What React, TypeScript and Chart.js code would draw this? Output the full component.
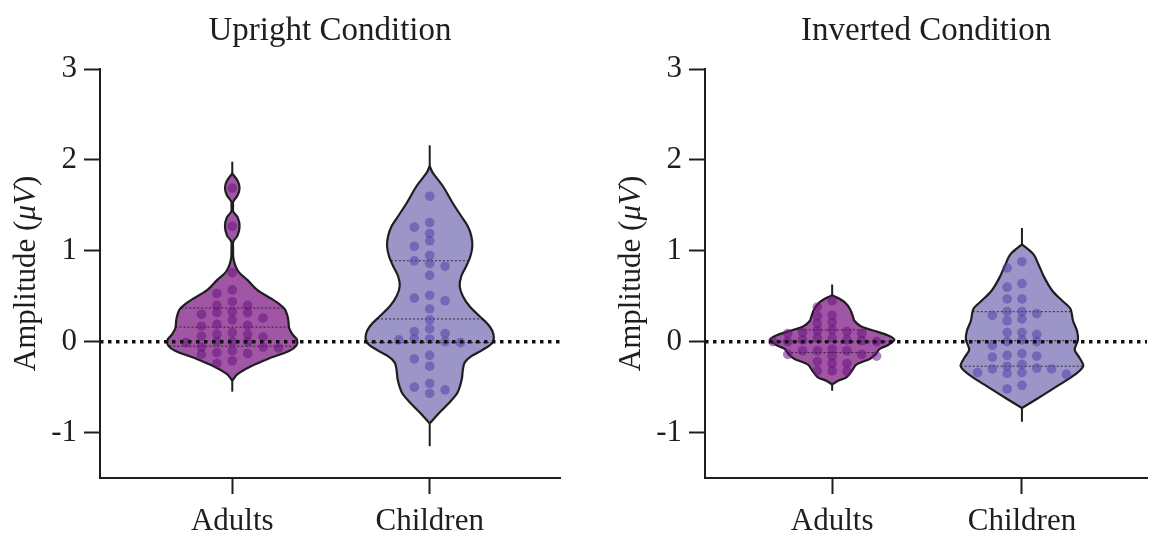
import React, { useEffect, useRef } from "react";
import { Chart, registerables } from "chart.js";

Chart.register(...registerables);

// ---------- data ----------
const CATEGORIES = ["Adults", "Children"];
const X_TICKS = [1, 2];
const Y_TICKS = [-1, 0, 1, 2, 3];
const PANEL_TITLES = ["Upright Condition", "Inverted Condition"];
const Y_TITLE_PARTS = ["Amplitude (", "μV", ")"];

// Upright condition – individual amplitudes (µV)
const UP_ADULT_VALUES = [1.69, 1.27, 0.76, 0.57, 0.53, 0.44, 0.4, 0.4, 0.33, 0.32, 0.32, 0.3, 0.26, 0.24, 0.19, 0.18, 0.17, 0.1, 0.08, 0.08, 0.06, 0.05, 0.0, 0.0, 0.0, -0.01, -0.06, -0.06, -0.07, -0.1, -0.12, -0.13, -0.14, -0.21, -0.24];
const UP_CHILD_VALUES = [1.6, 1.31, 1.26, 1.19, 1.11, 1.05, 0.95, 0.89, 0.86, 0.83, 0.73, 0.51, 0.48, 0.45, 0.36, 0.24, 0.14, 0.11, 0.09, 0.03, 0.03, 0.02, 0.0, -0.01, -0.15, -0.19, -0.27, -0.46, -0.5, -0.53, -0.57];
// Inverted condition – individual amplitudes (µV)
const INV_ADULT_VALUES = [0.45, 0.38, 0.29, 0.28, 0.21, 0.2, 0.13, 0.12, 0.11, 0.1, 0.09, 0.09, 0.04, 0.04, 0.02, 0.02, 0.01, 0.0, 0.0, 0.0, -0.08, -0.1, -0.1, -0.1, -0.14, -0.14, -0.16, -0.16, -0.22, -0.24, -0.24, -0.32, -0.32, -0.33];
const INV_CHILD_VALUES = [0.88, 0.81, 0.64, 0.6, 0.47, 0.47, 0.33, 0.33, 0.31, 0.29, 0.25, 0.23, 0.1, 0.1, 0.08, 0.02, 0.0, 0.0, -0.04, -0.13, -0.15, -0.16, -0.17, -0.25, -0.27, -0.29, -0.3, -0.3, -0.34, -0.34, -0.35, -0.36, -0.48, -0.52];

// Violin density outlines: amplitude levels and half widths (x-axis units)
// first / last level = whisker ends, second / second-to-last = tips of the density
const UP_ADULT_LEVELS = [-0.55, -0.43, -0.36, -0.27, -0.19, -0.1, -0.04, 0.02, 0.08, 0.15, 0.25, 0.35, 0.41, 0.47, 0.57, 0.68, 0.76, 0.84, 0.93, 1.03, 1.1, 1.17, 1.27, 1.37, 1.43, 1.49, 1.54, 1.61, 1.69, 1.77, 1.85, 1.98];
const UP_ADULT_HALF = [0, 0, 0.025, 0.095, 0.18, 0.29, 0.325, 0.328, 0.305, 0.288, 0.283, 0.268, 0.24, 0.2, 0.126, 0.076, 0.035, 0.015, 0.005, 0.004, 0.005, 0.027, 0.037, 0.027, 0.005, 0.004, 0.005, 0.027, 0.037, 0.027, 0, 0];
const UP_CHILD_LEVELS = [-1.15, -0.9, -0.78, -0.67, -0.56, -0.42, -0.31, -0.23, -0.16, -0.09, -0.01, 0.08, 0.17, 0.28, 0.39, 0.5, 0.61, 0.72, 0.83, 0.94, 1.05, 1.16, 1.27, 1.38, 1.52, 1.71, 1.86, 1.93, 2.16];
const UP_CHILD_HALF = [0, 0, 0.05, 0.1, 0.141, 0.162, 0.168, 0.177, 0.211, 0.268, 0.318, 0.323, 0.303, 0.253, 0.202, 0.168, 0.152, 0.16, 0.185, 0.206, 0.216, 0.211, 0.193, 0.16, 0.118, 0.067, 0.015, 0, 0];
const INV_ADULT_LEVELS = [-0.54, -0.47, -0.43, -0.39, -0.32, -0.25, -0.19, -0.14, -0.08, -0.04, 0.02, 0.07, 0.12, 0.17, 0.23, 0.28, 0.36, 0.43, 0.48, 0.51, 0.63];
const INV_ADULT_HALF = [0, 0, 0.031, 0.077, 0.104, 0.129, 0.198, 0.229, 0.25, 0.292, 0.328, 0.292, 0.221, 0.151, 0.117, 0.109, 0.094, 0.068, 0.031, 0, 0];
const INV_CHILD_LEVELS = [-0.88, -0.73, -0.68, -0.58, -0.47, -0.36, -0.27, -0.18, -0.09, 0.02, 0.12, 0.23, 0.36, 0.45, 0.56, 0.71, 0.85, 0.96, 1.07, 1.25];
const INV_CHILD_HALF = [0, 0, 0.039, 0.117, 0.2, 0.281, 0.323, 0.304, 0.278, 0.295, 0.29, 0.269, 0.256, 0.2125, 0.16, 0.117, 0.087, 0.061, 0, 0];

// Quartile / median lines
const UP_ADULT_QUARTILES = [-0.05, 0.16, 0.37];
const UP_CHILD_QUARTILES = [-0.01, 0.25, 0.89];
const INV_ADULT_QUARTILES = [-0.12, 0.0, 0.13];
const INV_CHILD_QUARTILES = [-0.27, 0.01, 0.33];

// ---------- style ----------
const X_MIN = 0.33;
const X_MAX = 2.66;
const Y_MIN = -1.5;
const Y_MAX = 3;
const FONT_FAMILY = '"Liberation Serif", "Times New Roman", Times, serif';
const INK = "#1e1e1e";
const ADULT_FILL = "rgb(160, 86, 164)";
const CHILD_FILL = "rgb(155, 149, 200)";
const ADULT_DOT = "rgba(105, 20, 125, 0.55)";
const CHILD_DOT = "rgba(85, 65, 170, 0.55)";
const DOT_COLUMN_STEP = 0.078;
const DOT_MIN_GAP = 0.075;

type Violin = {
  center: number;
  levels: number[];
  half: number[];
  quartiles: number[];
  values: number[];
  fill: string;
  dot: string;
};

function outline(v: Violin) {
  const n = v.levels.length;
  const idx = v.levels.map((_, i) => i).slice(1, n - 1);
  const right = idx.map((i) => ({ x: v.center + v.half[i], y: v.levels[i] }));
  const left = idx.map((i) => ({ x: v.center - v.half[i], y: v.levels[i] })).reverse();
  return [...right, ...left];
}

function whiskers(v: Violin) {
  const n = v.levels.length;
  return [
    [
      { x: v.center, y: v.levels[0] },
      { x: v.center, y: v.levels[1] },
    ],
    [
      { x: v.center, y: v.levels[n - 2] },
      { x: v.center, y: v.levels[n - 1] },
    ],
  ];
}

function halfAt(v: Violin, y: number) {
  const L = v.levels;
  for (let i = 0; i < L.length - 1; i++) {
    if (y >= L[i] && y <= L[i + 1]) {
      const t = (y - L[i]) / (L[i + 1] - L[i]);
      return v.half[i] + t * (v.half[i + 1] - v.half[i]);
    }
  }
  return 0;
}

function swarm(values: number[], center: number) {
  const sorted = [...values].sort((a, b) => b - a);
  const placed: { col: number; y: number }[] = [];
  for (const val of sorted) {
    for (let k = 0; k < 30; k++) {
      const col = k === 0 ? 0 : k % 2 === 1 ? -Math.ceil(k / 2) : Math.ceil(k / 2);
      if (!placed.some((p) => p.col === col && Math.abs(p.y - val) < DOT_MIN_GAP)) {
        placed.push({ col, y: val });
        break;
      }
    }
  }
  return placed.map((p) => ({ x: center + p.col * DOT_COLUMN_STEP, y: p.y }));
}

const textPlugin = {
  id: "panelText",
  afterDraw(chart: any, _args: any, opts: any) {
    const { ctx, chartArea } = chart;
    ctx.save();
    ctx.fillStyle = INK;
    ctx.font = `33px ${FONT_FAMILY}`;
    ctx.textAlign = "center";
    ctx.textBaseline = "alphabetic";
    ctx.fillText(opts.title, (chartArea.left + chartArea.right) / 2, 40);

    const fonts = [`31px ${FONT_FAMILY}`, `italic 31px ${FONT_FAMILY}`, `31px ${FONT_FAMILY}`];
    const widths = Y_TITLE_PARTS.map((t, i) => {
      ctx.font = fonts[i];
      return ctx.measureText(t).width;
    });
    const total = widths.reduce((a, b) => a + b, 0);
    ctx.translate(chartArea.left - 73, (chartArea.top + chartArea.bottom) / 2);
    ctx.rotate(-Math.PI / 2);
    ctx.textAlign = "left";
    ctx.textBaseline = "middle";
    let x = -total / 2;
    Y_TITLE_PARTS.forEach((t, i) => {
      ctx.font = fonts[i];
      ctx.fillText(t, x, 0);
      x += widths[i];
    });
    ctx.restore();
  },
};

function makeConfig(title: string, violins: Violin[], yAxisWidth: number, padRight: number): any {
  const datasets: any[] = [];
  violins.forEach((v) => {
    whiskers(v).forEach((seg) => {
      datasets.push({
        type: "line",
        data: seg,
        borderColor: INK,
        borderWidth: 2,
        tension: 0,
        pointRadius: 0,
        fill: false,
        order: 4,
      });
    });
    datasets.push({
      type: "line",
      data: outline(v),
      borderColor: INK,
      borderWidth: 2.2,
      backgroundColor: v.fill,
      fill: "shape",
      tension: 0.3,
      pointRadius: 0,
      order: 3,
    });
    v.quartiles.forEach((q) => {
      const w = halfAt(v, q);
      datasets.push({
        type: "line",
        data: [
          { x: v.center - w, y: q },
          { x: v.center + w, y: q },
        ],
        borderColor: "rgba(25,25,25,0.85)",
        borderWidth: 1,
        borderDash: [2, 2],
        pointRadius: 0,
        fill: false,
        order: 2,
      });
    });
    datasets.push({
      type: "scatter",
      data: swarm(v.values, v.center),
      pointBackgroundColor: v.dot,
      pointBorderWidth: 0,
      pointRadius: 4.8,
      order: 1,
    });
  });
  datasets.push({
    type: "line",
    data: [
      { x: X_MIN, y: 0 },
      { x: X_MAX, y: 0 },
    ],
    borderColor: "#111",
    borderWidth: 3.5,
    borderDash: [3.5, 4.5],
    pointRadius: 0,
    fill: false,
    order: 0,
  });

  const tickFont = { family: FONT_FAMILY, size: 31 };
  return {
    type: "scatter",
    data: { datasets },
    plugins: [textPlugin],
    options: {
      animation: false,
      responsive: false,
      devicePixelRatio: 1,
      events: [],
      layout: { padding: { top: 69, right: padRight, bottom: 0, left: 0 } },
      plugins: {
        legend: { display: false },
        tooltip: { enabled: false },
        panelText: { title },
      },
      scales: {
        x: {
          type: "linear",
          min: X_MIN,
          max: X_MAX,
          afterBuildTicks: (s: any) => {
            s.ticks = X_TICKS.map((value) => ({ value }));
          },
          afterFit: (s: any) => {
            s.height = 58;
          },
          ticks: {
            callback: (value: number) => CATEGORIES[X_TICKS.indexOf(value)] ?? "",
            font: tickFont,
            color: INK,
            padding: 9,
            autoSkip: false,
            maxRotation: 0,
            minRotation: 0,
          },
          grid: {
            display: true,
            drawOnChartArea: false,
            drawTicks: true,
            tickLength: 16,
            tickWidth: 2,
            tickColor: INK,
          },
          border: { display: true, width: 2, color: INK },
        },
        y: {
          type: "linear",
          min: Y_MIN,
          max: Y_MAX,
          afterBuildTicks: (s: any) => {
            s.ticks = Y_TICKS.map((value) => ({ value }));
          },
          afterFit: (s: any) => {
            s.width = yAxisWidth;
          },
          ticks: {
            callback: (value: number) => String(value),
            font: tickFont,
            color: INK,
            padding: 7,
          },
          grid: {
            display: true,
            drawOnChartArea: false,
            drawTicks: true,
            tickLength: 16,
            tickWidth: 2,
            tickColor: INK,
          },
          border: { display: true, width: 2, color: INK },
        },
      },
    },
  };
}

const UPRIGHT: Violin[] = [
  { center: X_TICKS[0], levels: UP_ADULT_LEVELS, half: UP_ADULT_HALF, quartiles: UP_ADULT_QUARTILES, values: UP_ADULT_VALUES, fill: ADULT_FILL, dot: ADULT_DOT },
  { center: X_TICKS[1], levels: UP_CHILD_LEVELS, half: UP_CHILD_HALF, quartiles: UP_CHILD_QUARTILES, values: UP_CHILD_VALUES, fill: CHILD_FILL, dot: CHILD_DOT },
];
const INVERTED: Violin[] = [
  { center: X_TICKS[0], levels: INV_ADULT_LEVELS, half: INV_ADULT_HALF, quartiles: INV_ADULT_QUARTILES, values: INV_ADULT_VALUES, fill: ADULT_FILL, dot: ADULT_DOT },
  { center: X_TICKS[1], levels: INV_CHILD_LEVELS, half: INV_CHILD_HALF, quartiles: INV_CHILD_QUARTILES, values: INV_CHILD_VALUES, fill: CHILD_FILL, dot: CHILD_DOT },
];

function Panel({ title, violins, yAxisWidth, padRight }: { title: string; violins: Violin[]; yAxisWidth: number; padRight: number }) {
  const ref = useRef<HTMLCanvasElement>(null);
  useEffect(() => {
    if (!ref.current) return;
    const chart = new Chart(ref.current, makeConfig(title, violins, yAxisWidth, padRight));
    return () => chart.destroy();
  }, []);
  return <canvas ref={ref} width={576} height={536} style={{ display: "block", width: 576, height: 536 }} />;
}

export default function App() {
  return (
    <div style={{ position: "absolute", left: 0, top: 0, width: 1152, height: 536, display: "flex", background: "#fff" }}>
      <Panel title={PANEL_TITLES[0]} violins={UPRIGHT} yAxisWidth={100} padRight={16} />
      <Panel title={PANEL_TITLES[1]} violins={INVERTED} yAxisWidth={129} padRight={0} />
    </div>
  );
}
